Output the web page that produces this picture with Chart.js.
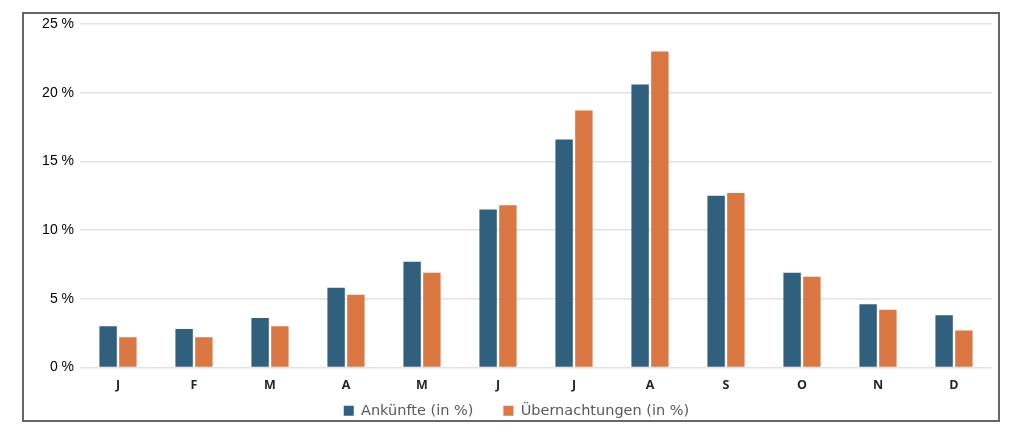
<!DOCTYPE html>
<html>
<head>
<meta charset="utf-8">
<script src="https://cdn.jsdelivr.net/npm/chart.js@4.4.1/dist/chart.umd.min.js"></script>
<style>
    html, body { margin: 0; padding: 0; background: #fff; }
    #frame {
        position: absolute;
        left: 22px; top: 12px;
        width: 974px; height: 406px;
        border: 2px solid #666;
        pointer-events: none;
    }
    #seasonChart { position: absolute; left: 24px; top: 14px; display: block; }
</style>
</head>
<body>
<canvas id="seasonChart" width="974" height="416"></canvas>
<div id="frame"></div>
<script>
// --- DATA ---
const months = ['J', 'F', 'M', 'A', 'M', 'J', 'J', 'A', 'S', 'O', 'N', 'D'];
const arrivals = [3.0, 2.8, 3.6, 5.8, 7.7, 11.5, 16.6, 20.6, 12.5, 6.9, 4.6, 3.8];
const overnights = [2.2, 2.2, 3.0, 5.3, 6.9, 11.8, 18.7, 23.0, 12.7, 6.6, 4.2, 2.7];
const seriesNames = ['Ankünfte (in %)', 'Übernachtungen (in %)'];
const yTicks = [0, 5, 10, 15, 20, 25];

document.addEventListener('DOMContentLoaded', () => {
    const ctx = document.getElementById('seasonChart').getContext('2d');

    new Chart(ctx, {
        type: 'bar',
        data: {
            labels: months,
            datasets: [
                {
                    label: seriesNames[0],
                    data: arrivals,
                    backgroundColor: '#31607f',
                    categoryPercentage: 0.52,
                    barPercentage: 0.88
                },
                {
                    label: seriesNames[1],
                    data: overnights,
                    backgroundColor: '#db7743',
                    categoryPercentage: 0.52,
                    barPercentage: 0.88
                }
            ]
        },
        options: {
            responsive: false,
            animation: false,
            layout: { padding: { left: 17, right: 6, top: 10, bottom: 2 } },
            plugins: {
                legend: {
                    position: 'bottom',
                    labels: {
                        color: '#595959',
                        font: { family: 'DejaVu Sans', size: 14.5 },
                        boxWidth: 10,
                        boxHeight: 10,
                        padding: 30
                    }
                },
                tooltip: { enabled: false }
            },
            scales: {
                x: {
                    grid: { display: false },
                    border: { display: false },
                    // squeeze the gap between month labels and legend,
                    // and don't clip the labels to the smaller box
                    afterFit: (scale) => {
                        scale.height = scale.height - 21;
                        scale._computeLabelArea = () => null;
                    },
                    ticks: {
                        color: '#262626',
                        font: { family: 'Open Sans', size: 12.5, weight: '700' },
                        padding: 2
                    }
                },
                y: {
                    min: 0,
                    max: 25,
                    afterFit: (scale) => {
                        scale.width = 39;
                        scale.paddingTop = 0;
                        scale.paddingBottom = 0;
                    },
                    afterBuildTicks: (scale) => { scale.ticks = yTicks.map(v => ({ value: v })); },
                    grid: { color: '#e2e2e2', lineWidth: 1.5, drawTicks: false },
                    border: { display: false },
                    ticks: {
                        color: '#000',
                        font: { family: 'Liberation Sans', size: 14 },
                        padding: 6,
                        callback: (v) => v + ' %'
                    }
                }
            }
        }
    });
});
</script>
</body>
</html>
